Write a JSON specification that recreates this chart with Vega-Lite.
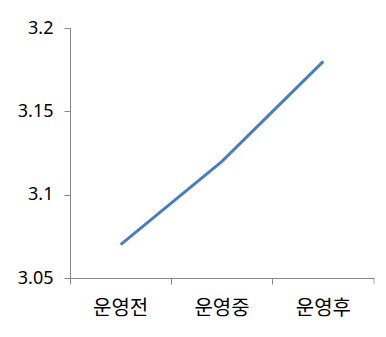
{
  "$schema": "https://vega.github.io/schema/vega-lite/v6.json",
  "autosize": "none",
  "width": 304,
  "height": 250,
  "padding": {"left": 70, "top": 28, "right": 12, "bottom": 59},
  "background": "white",
  "data": {"values": [
    {"stage": "운영전", "score": 3.07},
    {"stage": "운영중", "score": 3.12},
    {"stage": "운영후", "score": 3.18}
  ]},
  "config": {
    "view": {"stroke": null},
    "axis": {"grid": false, "domainColor": "#868686", "tickColor": "#868686", "labelColor": "#000000", "title": null}
  },
  "encoding": {
    "x": {"field": "stage", "type": "nominal", "sort": null,
      "scale": {"type": "band", "paddingInner": 0, "paddingOuter": 0},
      "axis": {"bandPosition": 0, "labelAngle": 0, "tickSize": 6, "labelPadding": 14, "labelFont": "Noto Sans CJK KR", "labelFontSize": 20, "labelAlign": "center", "labelBaseline": "top"}}
  },
  "layer": [
    {
      "mark": {"type": "line", "color": "#4a7ebb", "strokeWidth": 3},
      "encoding": {
        "y": {"field": "score", "type": "quantitative",
          "scale": {"domain": [3.05, 3.2], "zero": false, "nice": false},
          "axis": {"values": [3.05, 3.1, 3.15, 3.2], "format": "~g", "tickSize": 6, "labelPadding": 11, "labelFont": "Noto Sans", "labelFontSize": 18}}
      }
    },
    {
      "transform": [{"filter": "datum.stage === '운영후'"}],
      "mark": {"type": "tick", "orient": "vertical", "color": "#868686", "size": 6, "thickness": 1, "yOffset": 3},
      "encoding": {
        "x": {"field": "stage", "type": "nominal", "sort": null, "bandPosition": 1},
        "y": {"datum": 3.05, "type": "quantitative"}
      }
    }
  ]
}
